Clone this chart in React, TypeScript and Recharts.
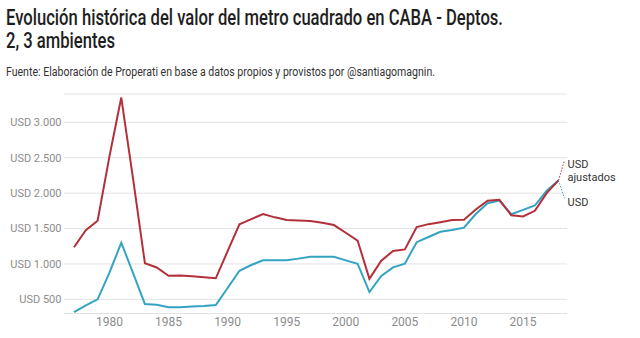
import React from "react";
import { CartesianGrid, Line, LineChart, XAxis, YAxis } from "recharts";

// años 1977-2018
const years = [
  1977, 1978, 1979, 1980, 1981, 1982, 1983, 1984, 1985, 1986, 1987, 1988, 1989,
  1990, 1991, 1992, 1993, 1994, 1995, 1996, 1997, 1998, 1999, 2000, 2001, 2002,
  2003, 2004, 2005, 2006, 2007, 2008, 2009, 2010, 2011, 2012, 2013, 2014, 2015,
  2016, 2017, 2018,
];

// USD ajustados (rojo)
const usdAjustados = [
  1235, 1475, 1610, 2520, 3350, 2200, 1010, 950, 833, 835, 825, 811, 797,
  1180, 1559, 1634, 1704, 1658, 1620, 1612, 1605, 1582, 1549, 1440, 1330, 790,
  1045, 1183, 1205, 1520, 1562, 1590, 1620, 1625, 1770, 1892, 1906, 1688, 1670,
  1750, 2000, 2180,
];

// USD nominales (azul)
const usd = [
  320, 415, 500, 876, 1300, 871, 434, 422, 387, 390, 398, 405, 420,
  660, 904, 985, 1051, 1051, 1051, 1075, 1101, 1101, 1101, 1050, 1003, 603,
  830, 952, 1004, 1307, 1380, 1454, 1480, 1513, 1705, 1858, 1896, 1702, 1763,
  1825, 2033, 2180,
];

const xTicks = [1980, 1985, 1990, 1995, 2000, 2005, 2010, 2015];
const yTicks = [500, 1000, 1500, 2000, 2500, 3000];
const yTickLabels = ["USD 500", "USD 1.000", "USD 1.500", "USD 2.000", "USD 2.500", "USD 3.000"];

const titleLines = ["Evolución histórica del valor del metro cuadrado en CABA - Deptos.", "2, 3 ambientes"];
const redLabel = ["USD", "ajustados"];
const blueLabel = ["USD"];

const RED = "#b3303a";
const BLUE = "#33a3c3";

const data = years.map((year, i) => ({
  year,
  ajustados: usdAjustados[i],
  usd: usd[i],
}));

const last = data.length - 1;

// título "condensado": fuente más chica estirada en vertical
const TITLE_SY = 1.38;

function YTick(props: any) {
  const { x, y, payload } = props;
  return (
    <text x={x} y={y} dy="0.355em" textAnchor="end" fontSize={11} fill="#8c8c8c" fontFamily="Roboto">
      {yTickLabels[yTicks.indexOf(payload.value)]}
    </text>
  );
}

function endLabel(lines: string[], color: string, up: boolean) {
  return (props: any) => {
    const { x, y, index } = props;
    if (index !== last) return null;
    const ex = x + 6;
    const ey = up ? y - 20 : y + 18;
    const firstBase = up ? y - 12.5 : y + 25.5;
    return (
      <g key={`end-${color}`}>
        <line x1={x} y1={y} x2={ex} y2={ey} stroke={color} strokeWidth={1} strokeDasharray="1.5 1.5" />
        {lines.map((t, k) => (
          <text key={t} x={x + 9} y={firstBase + k * 13.5} fontSize={11} fill="#333" fontFamily="Roboto">
            {t}
          </text>
        ))}
      </g>
    );
  };
}

export default function App() {
  return (
    <div style={{ position: "absolute", left: 0, top: 0, width: 640, height: 338, background: "#fff", fontFamily: "Roboto" }}>
      <svg width={640} height={85} style={{ position: "absolute", left: 0, top: 0 }}>
        <g transform={`scale(1, ${TITLE_SY})`}>
          <text x={6} y={25 / TITLE_SY} fontSize={15.5} fontWeight={500} fill="#1e1e1e" textLength={497} lengthAdjust="spacingAndGlyphs">
            {titleLines[0]}
          </text>
          <text x={6} y={48 / TITLE_SY} fontSize={15.5} fontWeight={500} fill="#1e1e1e" textLength={109} lengthAdjust="spacingAndGlyphs">
            {titleLines[1]}
          </text>
        </g>
        <text x={6} y={75.7} fontSize={12.5} fill="#333" textLength={429} lengthAdjust="spacingAndGlyphs">
          Fuente: Elaboración de Properati en base a datos propios y provistos por @santiagomagnin.
        </text>
      </svg>
      <div style={{ position: "absolute", left: 0, top: 85 }}>
        <LineChart width={640} height={253} data={data} margin={{ top: 9, right: 73, bottom: 4.5, left: 0 }}>
          <CartesianGrid vertical={false} stroke="#e3e3e3" />
          <XAxis
            dataKey="year"
            type="number"
            domain={[1977, 2018]}
            ticks={xTicks}
            padding={{ left: 10, right: 8.5 }}
            axisLine={false}
            tickLine={false}
            tickSize={0}
            tickMargin={4}
            height={20}
            tick={{ fill: "#8c8c8c", fontSize: 12, fontFamily: "Roboto" }}
          />
          <YAxis
            type="number"
            domain={[300, 3400]}
            allowDataOverflow
            ticks={yTicks}
            width={64}
            axisLine={false}
            tickLine={false}
            tickSize={0}
            tickMargin={2.5}
            tick={<YTick />}
          />
          <Line
            type="linear"
            dataKey="usd"
            stroke={BLUE}
            strokeWidth={2}
            dot={false}
            isAnimationActive={false}
            label={endLabel(blueLabel, BLUE, false)}
          />
          <Line
            type="linear"
            dataKey="ajustados"
            stroke={RED}
            strokeWidth={2}
            dot={false}
            isAnimationActive={false}
            label={endLabel(redLabel, RED, true)}
          />
        </LineChart>
      </div>
    </div>
  );
}
